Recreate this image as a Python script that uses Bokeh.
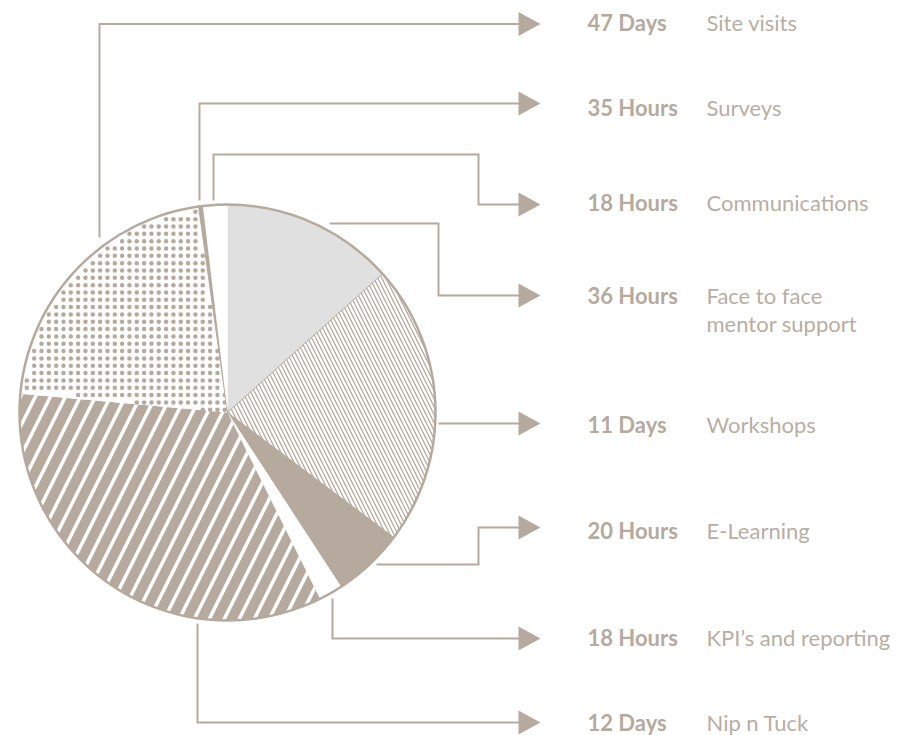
import numpy as np
from bokeh.plotting import figure
from bokeh.models import Range1d
from bokeh.core.properties import value
from bokeh.embed import file_html
from bokeh.resources import INLINE

# ---------------- data ----------------
categories = ["Site visits", "Surveys", "Communications", "Face to face\nmentor support",
              "Workshops", "E-Learning", "KPI\u2019s and reporting", "Nip n Tuck"]
amounts = [47, 35, 18, 36, 11, 20, 18, 12]
units = ["Days", "Hours", "Hours", "Hours", "Days", "Hours", "Hours", "Days"]

# wedge sizes (degrees of the circle), clockwise from 12 o'clock
wedge_order = ["Face to face\nmentor support", "Workshops", "E-Learning", "KPI\u2019s and reporting",
               "Nip n Tuck", "Site visits", "Surveys", "Communications"]
wedge_share = [48.2, 78.7, 20.0, 6.7, 121.6, 76.8, 1.2, 6.8]

# ---------------- styles / layout ----------------
TAUPE = "#b5aa9d"
LIGHT = "#e0e0e0"
TEXT_C = "#b8aea2"

wedge_style = {
    "Face to face\nmentor support": dict(fill_color=LIGHT),
    "Workshops": dict(fill_color="white", hatch_pattern="\\", hatch_color=TAUPE, hatch_scale=8, hatch_weight=1.3,
                      line_color=TAUPE, line_width=1),
    "E-Learning": dict(fill_color=TAUPE),
    "KPI\u2019s and reporting": dict(fill_color="white"),
    "Nip n Tuck": dict(fill_color=TAUPE, hatch_pattern="/", hatch_color="white", hatch_scale=30, hatch_weight=3.5),
    "Site visits": dict(fill_color="white"),
    "Surveys": dict(fill_color=TAUPE, line_color=TAUPE, line_width=1),
    "Communications": dict(fill_color="white"),
}
DOTTED = "Site visits"
DOT_STEP, DOT_SIZE = 7.33, 4.5

CX, CY, R = 227, 412, 208
row_y = [23.5, 103, 204, 295, 423, 527, 638, 722]
text_dy = [-1.5, 4, -2, 0, 1, 3, -1, 0]
connector_paths = [
    [(99, 237), (99, 23.5), (519, 23.5)],
    [(199, 200), (199, 103), (519, 103)],
    [(213, 200), (213, 154), (478, 154), (478, 204), (519, 204)],
    [(329, 223), (438, 223), (438, 295), (519, 295)],
    [(438, 423), (519, 423)],
    [(376, 564), (478, 564), (478, 527), (519, 527)],
    [(332, 598), (332, 638), (519, 638)],
    [(197, 623), (197, 722), (519, 722)],
]
ARROW_BASE, ARROW_TIP, ARROW_HALF = 518, 540, 12
VALUE_X, LABEL_X = 587, 706
FONT_SIZE = 22
LINE_H = 28

W, H = 900, 735
p = figure(width=W, height=H, x_range=Range1d(0, W), y_range=Range1d(H, 0),
           output_backend="svg", toolbar_location=None, min_border=0)
p.axis.visible = False
p.grid.visible = False
p.outline_line_color = None
p.background_fill_color = "white"
p.border_fill_color = "white"

# ---------------- pie ----------------
total = sum(wedge_share)
cum = np.cumsum([0] + wedge_share) / total * 2 * np.pi  # clockwise from top
for i, name in enumerate(wedge_order):
    t1, t2 = cum[i], cum[i + 1]
    start = np.pi / 2 - t2
    end = np.pi / 2 - t1
    style = dict(line_color=None)
    style.update(wedge_style[name])
    p.wedge(x=[CX], y=[CY], radius=R, radius_units="screen", start_angle=[start], end_angle=[end],
            **style)
    if name == DOTTED:
        # dotted texture clipped to this wedge
        g = np.arange(-R, R + DOT_STEP, DOT_STEP)
        gx, gy = np.meshgrid(g, g)
        gx, gy = gx.ravel(), gy.ravel()
        rr = np.hypot(gx, gy)
        theta = np.mod(np.arctan2(gx, -gy), 2 * np.pi)  # clockwise from top (screen y down)
        keep = (rr < R - 4) & (theta > t1 + 0.02) & (theta < t2 - 0.015)
        p.scatter(x=CX + gx[keep], y=CY + gy[keep], size=DOT_SIZE, fill_color=TAUPE, line_color=None)

p.scatter(x=[CX], y=[CY], size=2 * R, fill_color=None, line_color=TAUPE, line_width=2.5)

# ---------------- connectors ----------------
xs = [[pt[0] for pt in path] for path in connector_paths]
ys = [[pt[1] for pt in path] for path in connector_paths]
p.multi_line(xs=xs, ys=ys, line_color=TAUPE, line_width=2, line_join="miter")
p.patches(xs=[[ARROW_BASE, ARROW_TIP, ARROW_BASE] for _ in row_y],
          ys=[[y - ARROW_HALF, y, y + ARROW_HALF] for y in row_y],
          fill_color=TAUPE, line_color=None)

# ---------------- texts ----------------
value_texts = [f"{a} {u}" for a, u in zip(amounts, units)]
ty = [y + d for y, d in zip(row_y, text_dy)]
p.text(x=[VALUE_X] * len(ty), y=ty, text=value_texts, text_font=value("Lato"), text_font_style="bold",
       text_font_size=f"{FONT_SIZE}px", text_color=TAUPE, text_baseline="middle", text_align="left")

single = [c.split("\n")[0] for c in categories]
p.text(x=[LABEL_X] * len(ty), y=ty, text=single, text_font=value("Lato"),
       text_font_size=f"{FONT_SIZE}px", text_color=TEXT_C, text_baseline="middle", text_align="left")
second = [(LABEL_X, y + LINE_H, c.split("\n")[1]) for y, c in zip(ty, categories) if "\n" in c]
p.text(x=[s[0] for s in second], y=[s[1] for s in second], text=[s[2] for s in second],
       text_font=value("Lato"), text_font_size=f"{FONT_SIZE}px", text_color=TEXT_C,
       text_baseline="middle", text_align="left")

open("out.html", "w").write(file_html(p, INLINE))
